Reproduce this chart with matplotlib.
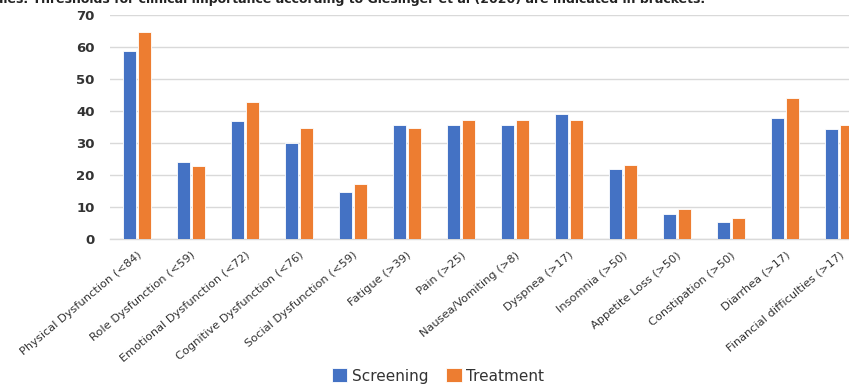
import matplotlib
matplotlib.use("Agg")
import matplotlib.pyplot as plt
import numpy as np

plt.rcParams['font.family'] = ['DejaVu Sans']

categories = [
    "Physical Dysfunction (<84)", "Role Dysfunction (<59)", "Emotional Dysfunction (<72)",
    "Cognitive Dysfunction (<76)", "Social Dysfunction (<59)", "Fatigue (>39)", "Pain (>25)",
    "Nausea/Vomiting (>8)", "Dyspnea (>17)", "Insomnia (>50)", "Appetite Loss (>50)",
    "Constipation (>50)", "Diarrhea (>17)", "Financial difficulties (>17)",
]
screening = [58.6, 24.0, 36.8, 29.9, 14.8, 35.6, 35.6, 35.6, 39.2, 21.9, 7.7, 5.4, 37.8, 34.4]
treatment = [64.6, 22.7, 42.8, 34.8, 17.3, 34.8, 37.3, 37.3, 37.3, 23.0, 9.3, 6.5, 44.1, 35.6]
yticks = [0, 10, 20, 30, 40, 50, 60, 70]

blue = "#4472C4"
orange = "#ED7D31"

fig = plt.figure(figsize=(8.49, 3.84), dpi=100)
ax = fig.add_axes([110 / 849, 1 - 239 / 384, 756 / 849, 224 / 384])

x = np.arange(len(categories))
w = 0.235
ax.bar(x - 0.135, screening, width=w, color=blue, edgecolor="white", linewidth=0.6,
       label="Screening", zorder=3)
ax.bar(x + 0.135, treatment, width=w, color=orange, edgecolor="white", linewidth=0.6,
       label="Treatment", zorder=3)

ax.set_xlim(-0.5, len(categories) - 0.5)
ax.set_ylim(0, 70)
ax.set_yticks(yticks)
ax.set_yticklabels([str(v) for v in yticks], fontsize=9.5, fontweight="bold", color="#333333")
ax.yaxis.grid(True, color="#D9D9D9", linewidth=1.0, zorder=0)
ax.tick_params(axis="y", length=0, pad=11)
ax.tick_params(axis="x", length=0, pad=8)
for s in ["top", "right", "left"]:
    ax.spines[s].set_visible(False)
ax.spines["bottom"].set_color("#D9D9D9")
ax.spines["bottom"].set_linewidth(1.0)

ax.set_xticks(x)
ax.set_xticklabels(categories, rotation=40, ha="right", va="top",
                   rotation_mode="anchor", fontsize=8.2, color="#333333")

fig.legend(loc="center", bbox_to_anchor=(438 / 849, 1 - 376 / 384), ncol=2, frameon=False,
           fontsize=11, handlelength=1.0, handleheight=1.0, handletextpad=0.3,
           columnspacing=1.2, labelcolor="#333333")

# caption line running off the top edge
fig.text(705 / 849, 1 - 3 / 384, "Scores of the EORTC QLQ-C30 scales. Thresholds for clinical importance "
         "according to Giesinger et al (2020) are indicated in brackets.",
         ha="right", va="baseline", fontsize=9, fontweight="bold", color="#222222")

fig.savefig("out.png", dpi=100)
